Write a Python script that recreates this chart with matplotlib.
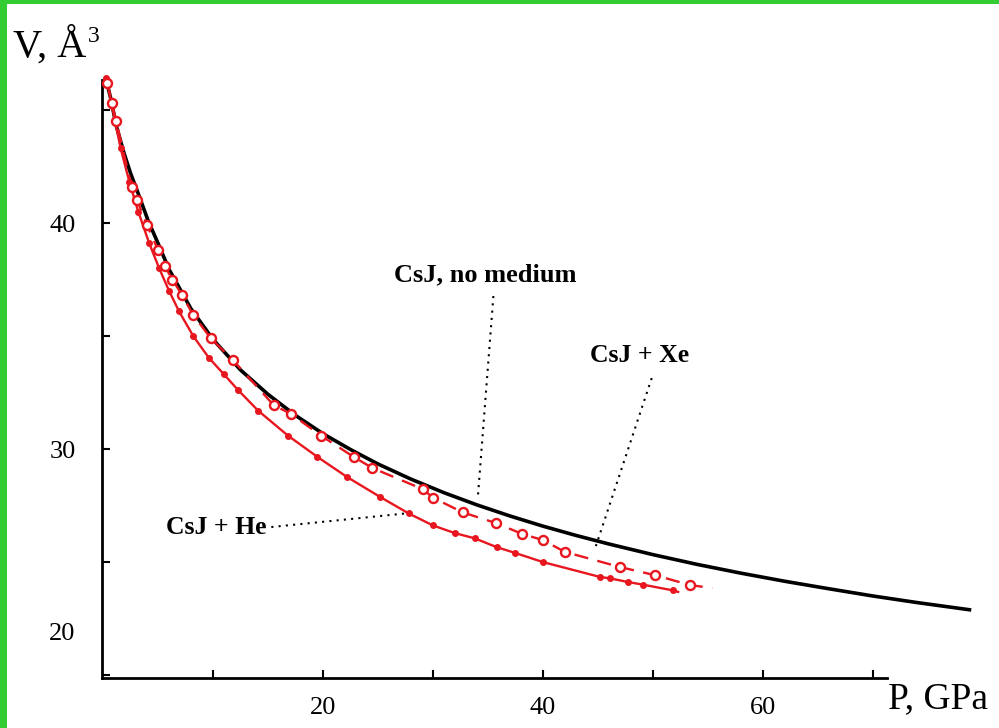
import matplotlib
matplotlib.use("Agg")
import matplotlib.pyplot as plt
from matplotlib.patches import Rectangle
from matplotlib.transforms import ScaledTranslation

# ---- data ----
p_none = [0.3, 0.7, 1.2, 1.9, 2.5, 3.2, 4.1, 5.0, 6.0, 8.0, 10.0, 12.5, 15.0, 17.5, 20.0,
          22.5, 25.0, 28.0, 31.0, 34.0, 37.0, 40.0, 43.0, 46.0, 50.0, 54.0, 58.0, 62.0,
          66.0, 70.0, 74.0, 78.8]
v_none = [46.3, 45.5, 44.3, 43.1, 42.2, 41.3, 40.1, 39.1, 37.95, 36.2, 34.85, 33.5, 32.42,
          31.49, 30.68, 29.98, 29.34, 28.67, 28.07, 27.53, 27.04, 26.59, 26.18, 25.80, 25.33,
          24.90, 24.51, 24.15, 23.82, 23.50, 23.21, 22.89]

p_he = [0.3, 0.8, 1.6, 2.4, 3.2, 4.2, 5.1, 6.0, 6.9, 8.2, 9.6, 11.0, 12.3, 14.1, 16.8,
        19.5, 22.2, 25.2, 27.8, 30.0, 32.0, 33.8, 35.8, 37.5, 40.0, 45.2, 46.1, 47.7,
        49.1, 51.8]
v_he = [46.4, 45.2, 43.3, 41.8, 40.5, 39.1, 38.0, 37.0, 36.1, 35.0, 34.05, 33.3, 32.6,
        31.7, 30.6, 29.65, 28.76, 27.88, 27.15, 26.62, 26.28, 26.05, 25.66, 25.4, 25.0,
        24.34, 24.28, 24.12, 24.0, 23.75]
p_he_end, v_he_end = 52.3, 23.68

p_xe = [0.4, 0.8, 1.2, 2.6, 3.1, 4.0, 5.0, 5.6, 6.3, 7.2, 8.2, 9.8, 11.8, 15.5, 17.1,
        19.8, 22.8, 24.5, 29.1, 30.0, 32.7, 35.7, 38.1, 40.0, 42.0, 47.0, 50.2, 53.4]
v_xe = [46.2, 45.3, 44.5, 41.6, 41.0, 39.9, 38.8, 38.1, 37.5, 36.8, 35.93, 34.9, 33.94,
        31.95, 31.55, 30.6, 29.65, 29.16, 28.22, 27.85, 27.2, 26.73, 26.25, 25.97, 25.45,
        24.78, 24.42, 23.98]
p_xe_end, v_xe_end = 55.4, 23.85

x_major = [20, 40, 60]
x_minor = [10, 30, 50, 70]
y_major = [20, 30, 40]
y_minor = [25, 35, 45]

labels = ["CsJ, no medium", "CsJ + Xe", "CsJ + He"]

RED = "#e8161e"
SERIF = ["Liberation Serif", "DejaVu Serif"]

fig = plt.figure(figsize=(9.99, 7.28), dpi=100)
fig.patch.set_facecolor("white")
fig.add_artist(Rectangle((0, 0), 7 / 999, 1, transform=fig.transFigure,
                         facecolor="#33cc33", edgecolor="none"))
fig.add_artist(Rectangle((0, 1 - 4 / 728), 1, 4 / 728, transform=fig.transFigure,
                         facecolor="#33cc33", edgecolor="none"))

ax = fig.add_axes([102 / 999, 50 / 728, 785 / 999, 598 / 728])
ax.set_xlim(-0.1, 71.3)
ax.set_ylim(19.87, 46.33)

for s in ["top", "right"]:
    ax.spines[s].set_visible(False)
for s in ["left", "bottom"]:
    ax.spines[s].set_linewidth(2.0)
    ax.spines[s].set_color("black")

ax.set_xticks(x_major)
ax.set_xticks(x_minor, minor=True)
ax.set_yticks(y_major)
ax.set_yticks(y_minor, minor=True)
ax.set_xticklabels([str(v) for v in x_major], fontfamily=SERIF, fontsize=19)
ax.set_yticklabels([str(v) for v in y_major], fontfamily=SERIF, fontsize=19)
ax.tick_params(which="both", direction="in", length=6, width=1.5, colors="black")
ax.tick_params(axis="x", which="both", pad=14)
ax.tick_params(axis="y", which="both", pad=19)
# the lowest V label sits higher than its tick in the original
lab20 = ax.get_yticklabels()[0]
lab20.set_transform(lab20.get_transform() + ScaledTranslation(0, 0.44, fig.dpi_scale_trans))

# curves
ax.plot(p_none, v_none, color="black", lw=2.6, clip_on=False, zorder=3)
ax.plot(p_he + [p_he_end], v_he + [v_he_end], color=RED, lw=1.7, zorder=4, clip_on=False)
ax.plot(p_he, v_he, linestyle="none", marker="o", ms=4, color=RED, zorder=5, clip_on=False)
ax.plot(p_xe + [p_xe_end], v_xe + [v_xe_end], color=RED, lw=1.7, dashes=(6, 4),
        zorder=4, clip_on=False)
ax.plot(p_xe, v_xe, linestyle="none", marker="o", ms=6.5, mfc="white", mec=RED, mew=1.7,
        zorder=6, clip_on=False)

# annotations
dot = dict(color="black", lw=1.5, linestyle=(0, (1, 2.5)), zorder=2)
ax.plot([35.5, 34.1], [36.77, 27.96], **dot)
ax.plot([49.9, 44.7], [33.14, 25.53], **dot)
ax.plot([15.3, 27.9], [26.55, 27.17], **dot)

ax.text(34.8, 37.7, labels[0], ha="center", va="center", fontsize=19,
        fontweight="bold", fontfamily=SERIF)
ax.text(48.8, 34.16, labels[1], ha="center", va="center", fontsize=18.5,
        fontweight="bold", fontfamily=SERIF)
ax.text(10.3, 26.55, labels[2], ha="center", va="center", fontsize=18.5,
        fontweight="bold", fontfamily=SERIF)

# axis titles
fig.text(13 / 999, 1 - 57 / 728, "V, Å", fontsize=29, fontfamily=SERIF, ha="left",
         va="baseline")
fig.text(88 / 999, 1 - 42 / 728, "3", fontsize=17, fontfamily=SERIF, ha="left",
         va="baseline")
fig.text(888 / 999, 1 - 708 / 728, "P, GPa", fontsize=27, fontfamily=SERIF, ha="left",
         va="baseline")

fig.savefig("out.png", dpi=100)
